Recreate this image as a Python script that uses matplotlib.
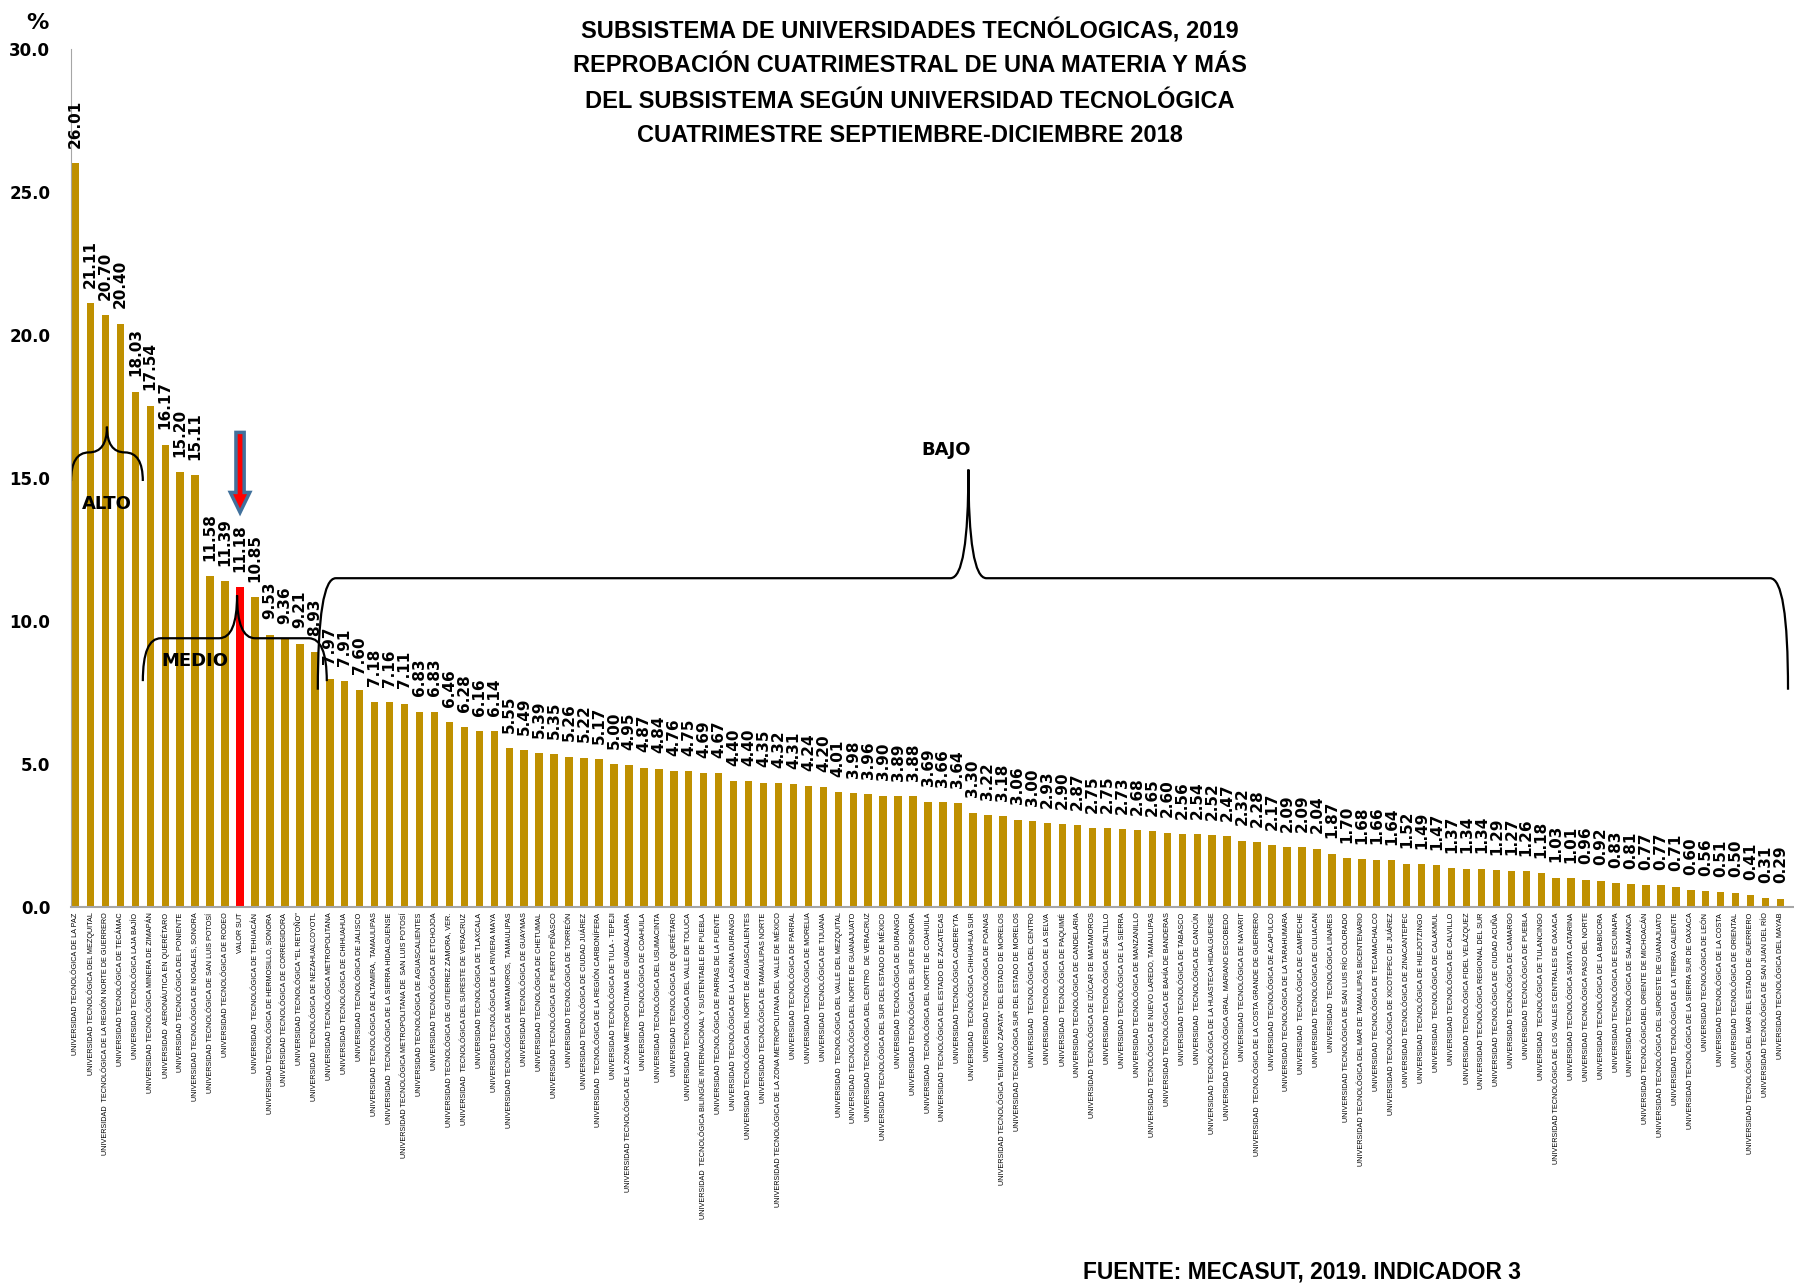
import matplotlib
matplotlib.use("Agg")
import matplotlib.pyplot as plt
import numpy as np
from matplotlib.path import Path
from matplotlib.patches import PathPatch, FancyArrow

# data
universidades = [
    "UNIVERSIDAD TECNOLÓGICA DE LA PAZ",
    "UNIVERSIDAD TECNOLÓGICA DEL MEZQUITAL",
    "UNIVERSIDAD  TECNOLÓGICA DE LA REGIÓN NORTE DE GUERRERO",
    "UNIVERSIDAD TECNOLÓGICA DE TECÁMAC",
    "UNIVERSIDAD TECNOLÓGICA LAJA BAJÍO",
    "UNIVERSIDAD TECNOLÓGICA MINERA DE ZIMAPÁN",
    "UNIVERSIDAD  AERONÁUTICA EN QUERÉTARO",
    "UNIVERSIDAD TECNOLÓGICA DEL PONIENTE",
    "UNIVERSIDAD TECNOLÓGICA DE NOGALES, SONORA",
    "UNIVERSIDAD TECNOLÓGICA DE SAN LUIS POTOSÍ",
    "UNIVERSIDAD TECNOLÓGICA DE RODEO",
    "VALOR SUT",
    "UNIVERSIDAD  TECNOLÓGICA DE TEHUACÁN",
    "UNIVERSIDAD TECNOLÓGICA DE HERMOSILLO, SONORA",
    "UNIVERSIDAD TECNOLÓGICA DE CORREGIDORA",
    "UNIVERSIDAD TECNOLÓGICA \"EL RETOÑO\"",
    "UNIVERSIDAD  TECNOLÓGICA DE NEZAHUALCOYOTL",
    "UNIVERSIDAD TECNOLÓGICA METROPOLITANA",
    "UNIVERSIDAD TECNOLÓGICA DE CHIHUAHUA",
    "UNIVERSIDAD TECNOLÓGICA DE JALISCO",
    "UNIVERSIDAD TECNOLÓGICA DE ALTAMIRA,  TAMAULIPAS",
    "UNIVERSIDAD  TECNOLÓGICA DE LA SIERRA HIDALGUENSE",
    "UNIVERSIDAD TECNOLÓGICA METROPOLITANA DE  SAN LUIS POTOSÍ",
    "UNIVERSIDAD TECNOLÓGICA DE AGUASCALIENTES",
    "UNIVERSIDAD TECNOLÓGICA DE ETCHOJOA",
    "UNIVERSIDAD TECNOLÓGICA DE GUTIERREZ ZAMORA, VER.",
    "UNIVERSIDAD  TECNOLÓGICA DEL SURESTE DE VERACRUZ",
    "UNIVERSIDAD TECNOLÓGICA DE TLAXCALA",
    "UNIVERSIDAD TECNOLÓGICA DE LA RIVIERA MAYA",
    "UNIVERSIDAD TECNOLÓGICA DE MATAMOROS,  TAMAULIPAS",
    "UNIVERSIDAD TECNOLÓGICA DE GUAYMAS",
    "UNIVERSIDAD TECNOLÓGICA DE CHETUMAL",
    "UNIVERSIDAD TECNOLÓGICA DE PUERTO PEÑASCO",
    "UNIVERSIDAD TECNOLÓGICA DE TORREÓN",
    "UNIVERSIDAD TECNOLÓGICA DE CIUDAD JUÁREZ",
    "UNIVERSIDAD  TECNOLÓGICA DE LA REGIÓN CARBONÍFERA",
    "UNIVERSIDAD TECNOLÓGICA DE TULA - TEPEJI",
    "UNIVERSIDAD TECNOLÓGICA DE LA ZONA METROPOLITANA DE GUADALAJARA",
    "UNIVERSIDAD  TECNOLÓGICA DE COAHUILA",
    "UNIVERSIDAD TECNOLÓGICA DEL USUMACINTA",
    "UNIVERSIDAD TECNOLÓGICA DE QUERÉTARO",
    "UNIVERSIDAD TECNOLÓGICA DEL VALLE DE TOLUCA",
    "UNIVERSIDAD  TECNOLÓGICA BILINGÜE INTERNACIONAL Y SUSTENTABLE DE PUEBLA",
    "UNIVERSIDAD TECNOLÓGICA DE PARRAS DE LA FUENTE",
    "UNIVERSIDAD TECNOLÓGICA DE LA LAGUNA DURANGO",
    "UNIVERSIDAD TECNOLÓGICA DEL NORTE DE AGUASCALIENTES",
    "UNIVERSIDAD TECNOLÓGICA DE TAMAULIPAS NORTE",
    "UNIVERSIDAD TECNOLÓGICA DE LA ZONA METROPOLITANA DEL VALLE DE MÉXICO",
    "UNIVERSIDAD TECNOLÓGICA DE PARRAL",
    "UNIVERSIDAD TECNOLÓGICA DE MORELIA",
    "UNIVERSIDAD TECNOLÓGICA DE TIJUANA",
    "UNIVERSIDAD  TECNOLÓGICA DEL VALLE DEL MEZQUITAL",
    "UNIVERSIDAD TECNOLÓGICA DEL NORTE DE GUANAJUATO",
    "UNIVERSIDAD TECNOLÓGICA DEL CENTRO  DE VERACRUZ",
    "UNIVERSIDAD TECNOLÓGICA DEL SUR DEL ESTADO DE MÉXICO",
    "UNIVERSIDAD TECNOLÓGICA DE DURANGO",
    "UNIVERSIDAD TECNOLÓGICA DEL SUR DE SONORA",
    "UNIVERSIDAD  TECNOLÓGICA DEL NORTE DE COAHUILA",
    "UNIVERSIDAD TECNOLÓGICA DEL ESTADO DE ZACATECAS",
    "UNIVERSIDAD TECNOLÓGICA CADEREYTA",
    "UNIVERSIDAD  TECNOLÓGICA CHIHUAHUA SUR",
    "UNIVERSIDAD TECNOLÓGICA DE POANAS",
    "UNIVERSIDAD TECNOLÓGICA \"EMILIANO ZAPATA\" DEL ESTADO DE MORELOS",
    "UNIVERSIDAD TECNOLÓGICA SUR DEL ESTADO DE MORELOS",
    "UNIVERSIDAD  TECNOLÓGICA DEL CENTRO",
    "UNIVERSIDAD TECNOLÓGICA DE LA SELVA",
    "UNIVERSIDAD  TECNOLÓGICA DE PAQUIMÉ",
    "UNIVERSIDAD TECNOLÓGICA DE CANDELARIA",
    "UNIVERSIDAD TECNOLÓGICA DE IZÚCAR DE MATAMOROS",
    "UNIVERSIDAD TECNOLÓGICA DE SALTILLO",
    "UNIVERSIDAD TECNOLÓGICA DE LA SIERRA",
    "UNIVERSIDAD TECNOLÓGICA DE MANZANILLO",
    "UNIVERSIDAD TECNOLÓGICA DE NUEVO LAREDO, TAMAULIPAS",
    "UNIVERSIDAD TECNOLÓGICA DE BAHÍA DE BANDERAS",
    "UNIVERSIDAD TECNOLÓGICA DE TABASCO",
    "UNIVERSIDAD  TECNOLÓGICA DE CANCÚN",
    "UNIVERSIDAD TECNOLÓGICA DE LA HUASTECA HIDALGUENSE",
    "UNIVERSIDAD TECNOLÓGICA GRAL. MARIANO ESCOBEDO",
    "UNIVERSIDAD TECNOLÓGICA DE NAYARIT",
    "UNIVERSIDAD  TECNOLÓGICA DE LA COSTA GRANDE DE GUERRERO",
    "UNIVERSIDAD TECNOLÓGICA DE ACAPULCO",
    "UNIVERSIDAD TECNOLÓGICA DE LA TARAHUMARA",
    "UNIVERSIDAD  TECNOLÓGICA DE CAMPECHE",
    "UNIVERSIDAD TECNOLÓGICA DE CULIACAN",
    "UNIVERSIDAD  TECNOLÓGICA LINARES",
    "UNIVERSIDAD TECNOLÓGICA DE SAN LUIS RÍO COLORADO",
    "UNIVERSIDAD TECNOLÓGICA DEL MAR DE TAMAULIPAS BICENTENARIO",
    "UNIVERSIDAD TECNOLÓGICA DE TECAMACHALCO",
    "UNIVERSIDAD TECNOLÓGICA DE XICOTEPEC DE JUÁREZ",
    "UNIVERSIDAD TECNOLÓGICA DE ZINACANTEPEC",
    "UNIVERSIDAD TECNOLÓGICA DE HUEJOTZINGO",
    "UNIVERSIDAD  TECNOLÓGICA DE CALAKMUL",
    "UNIVERSIDAD TECNOLÓGICA DE CALVILLO",
    "UNIVERSIDAD TECNOLÓGICA FIDEL VELÁZQUEZ",
    "UNIVERSIDAD TECNOLÓGICA REGIONAL DEL SUR",
    "UNIVERSIDAD TECNOLÓGICA DE CIUDAD ACUÑA",
    "UNIVERSIDAD TECNOLÓGICA DE CAMARGO",
    "UNIVERSIDAD TECNOLÓGICA DE PUEBLA",
    "UNIVERSIDAD  TECNOLÓGICA DE TULANCINGO",
    "UNIVERSIDAD TECNOLÓGICA DE LOS VALLES CENTRALES DE OAXACA",
    "UNIVERSIDAD TECNOLÓGICA SANTA CATARINA",
    "UNIVERSIDAD TECNOLÓGICA PASO DEL NORTE",
    "UNIVERSIDAD TECNOLÓGICA DE LA BABICORA",
    "UNIVERSIDAD TECNOLÓGICA DE ESCUINAPA",
    "UNIVERSIDAD TECNOLÓGICA DE SALAMANCA",
    "UNIVERSIDAD TECNOLÓGICADEL ORIENTE DE MICHOACÁN",
    "UNIVERSIDAD TECNOLÓGICA DEL SUROESTE DE GUANAJUATO",
    "UNIVERSIDAD TECNOLÓGICA DE LA TIERRA CALIENTE",
    "UNIVERSIDAD TECNOLÓGICA DE LA SIERRA SUR DE OAXACA",
    "UNIVERSIDAD TECNOLÓGICA DE LEÓN",
    "UNIVERSIDAD TECNOLÓGICA DE LA COSTA",
    "UNIVERSIDAD TECNOLÓGICA DE ORIENTAL",
    "UNIVERSIDAD TECNOLÓGICA DEL MAR DEL ESTADO DE GUERRERO",
    "UNIVERSIDAD TECNOLÓGICA DE SAN JUAN DEL RÍO",
    "UNIVERSIDAD TECNOLÓGICA DEL MAYAB",
]

reprobacion = [
    26.01, 21.11, 20.70, 20.40, 18.03, 17.54, 16.17, 15.20, 15.11, 11.58,
    11.39, 11.18, 10.85, 9.53, 9.36, 9.21, 8.93, 7.97, 7.91, 7.60,
    7.18, 7.16, 7.11, 6.83, 6.83, 6.46, 6.28, 6.16, 6.14, 5.55,
    5.49, 5.39, 5.35, 5.26, 5.22, 5.17, 5.00, 4.95, 4.87, 4.84,
    4.76, 4.75, 4.69, 4.67, 4.40, 4.40, 4.35, 4.32, 4.31, 4.24,
    4.20, 4.01, 3.98, 3.96, 3.90, 3.89, 3.88, 3.69, 3.66, 3.64,
    3.30, 3.22, 3.18, 3.06, 3.00, 2.93, 2.90, 2.87, 2.75, 2.75,
    2.73, 2.68, 2.65, 2.60, 2.56, 2.54, 2.52, 2.47, 2.32, 2.28,
    2.17, 2.09, 2.09, 2.04, 1.87, 1.70, 1.68, 1.66, 1.64, 1.52,
    1.49, 1.47, 1.37, 1.34, 1.34, 1.29, 1.27, 1.26, 1.18, 1.03,
    1.01, 0.96, 0.92, 0.83, 0.81, 0.77, 0.77, 0.71, 0.60, 0.56,
    0.51, 0.50, 0.41, 0.31, 0.29,
]

titulo = [
    "SUBSISTEMA DE UNIVERSIDADES TECNÓLOGICAS, 2019",
    "REPROBACIÓN CUATRIMESTRAL DE UNA MATERIA Y MÁS",
    "DEL SUBSISTEMA SEGÚN UNIVERSIDAD TECNOLÓGICA",
    "CUATRIMESTRE SEPTIEMBRE-DICIEMBRE 2018",
]
fuente = "FUENTE: MECASUT, 2019. INDICADOR 3"

# (x0, x1, x_tip, y_flat, y_ends, y_tip, label, label_x, label_y)
grupos = [
    (-0.3, 4.5, 2.1, 15.9, 14.9, 16.8, "ALTO", 2.1, 14.1),
    (4.5, 16.8, 10.8, 9.4, 7.9, 10.9, "MEDIO", 8.0, 8.6),
    (16.2, 114.5, 59.7, 11.5, 7.6, 15.3, "BAJO", 58.2, 16.0),
]


def llave(ax, x0, x1, xt, yf, ye, yt, rx):
    verts = [(x0, ye), (x0, yf), (x0 + rx, yf),
             (xt - rx, yf),
             (xt, yf), (xt, yt),
             (xt, yf), (xt + rx, yf),
             (x1 - rx, yf),
             (x1, yf), (x1, ye)]
    codes = [Path.MOVETO, Path.CURVE3, Path.CURVE3,
             Path.LINETO,
             Path.CURVE3, Path.CURVE3,
             Path.CURVE3, Path.CURVE3,
             Path.LINETO,
             Path.CURVE3, Path.CURVE3]
    ax.add_patch(PathPatch(Path(verts, codes), fc="none", ec="black", lw=1.6))


fig = plt.figure(figsize=(17.94, 12.86), dpi=100)
ax = fig.add_axes([0.0396, 0.2947, 0.9604, 0.667])

x = np.arange(len(reprobacion))
colores = ["#FF0000" if u == "VALOR SUT" else "#BF9000" for u in universidades]
ax.bar(x, reprobacion, width=0.5, color=colores)

for xi, v in zip(x, reprobacion):
    ax.annotate("%.2f" % v, (xi, v), xytext=(0, 11), textcoords="offset points",
                rotation=90, ha="center", va="bottom", fontsize=11, fontweight="bold")

ax.set_xlim(-0.3, 114.9)
ax.set_ylim(0, 30)
ax.set_yticks(np.arange(0, 31, 5))
ax.set_yticklabels(["%.1f" % t for t in np.arange(0, 31, 5)], fontsize=12, fontweight="bold")
ax.set_xticks(x)
ax.set_xticklabels(universidades, rotation=90, fontsize=5.2, family="Liberation Sans")
ax.tick_params(axis="y", length=0, pad=15)
ax.tick_params(axis="x", length=0, pad=4)
for s in ["top", "right"]:
    ax.spines[s].set_visible(False)
ax.spines["left"].set_color("#A6A6A6")
ax.spines["bottom"].set_color("#A6A6A6")
ax.spines["bottom"].set_linewidth(1.5)

# braces and group names
for x0, x1, xt, yf, ye, yt, nombre, lx, ly in grupos:
    llave(ax, x0, x1, xt, yf, ye, yt, 1.2)
    ax.text(lx, ly, nombre, ha="center", va="center", fontsize=13, fontweight="bold")

# arrow for the SUT value
ax.add_patch(FancyArrow(11, 16.6, 0, -2.8, width=0.55, head_width=1.3, head_length=0.7,
                        length_includes_head=True, fc="#FF0000", ec="#41719C", lw=2.5,
                        clip_on=False))

fig.text(0.021, 0.982, "%", fontsize=16, fontweight="bold", ha="center", va="center")
ys = [0.976, 0.949, 0.921, 0.895]
for linea, yy in zip(titulo, ys):
    fig.text(0.507, yy, linea, ha="center", va="center", fontsize=17,
             fontweight="bold", family="Liberation Sans")
fig.text(0.726, 0.011, fuente, ha="center", va="center", fontsize=16.4,
         fontweight="bold", family="Liberation Sans")

fig.savefig("out.png", dpi=100)
